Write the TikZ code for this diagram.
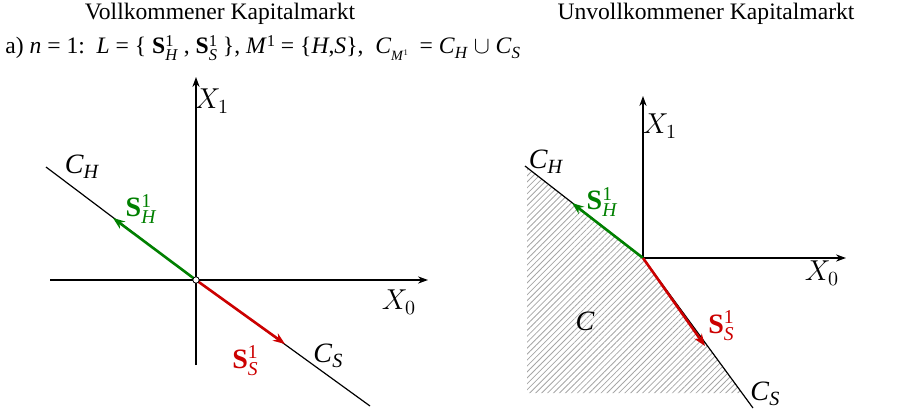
\documentclass[tikz,border=0pt]{standalone}
\usepackage{fontspec}
\setmainfont{Liberation Serif}
\usetikzlibrary{arrows.meta,patterns.meta}
\definecolor{hgreen}{RGB}{0,128,0}
\definecolor{sred}{RGB}{204,0,0}
% bold S with stacked 1 and index
\newcommand{\Svec}[1]{\textbf{S}\rlap{\raisebox{0.33em}{\scalebox{0.7}{1}}}\raisebox{-0.27em}{\scalebox{0.7}{\textit{#1}}}}
\newcommand{\Cset}[1]{\textit{C}\raisebox{-0.18em}{\scalebox{0.72}{\textit{#1}}}}

\begin{document}
\begin{tikzpicture}[x=0.5pt,y=-0.5pt,>=Stealth,
	axis/.style={draw=black,line width=0.6pt,-{Stealth[length=5pt,width=3.6pt]}},%
	budget/.style={draw=black,line width=0.6pt},%
	vecH/.style={draw=hgreen,line width=1.3pt,-{Stealth[length=6pt,width=4.5pt]}},%
	vecS/.style={draw=sred,line width=1.3pt,-{Stealth[length=6pt,width=4.5pt]}},%
	lab/.style={font=\fontsize{14}{16}\selectfont,inner sep=0pt},%
	head/.style={font=\fontsize{11.8}{14}\selectfont,inner sep=0pt}]
	\useasboundingbox (0,0) rectangle (907,412);
	% headings
	\node[head] (tleft) at (220,14) {Vollkommener Kapitalmarkt};
	\node[head] (tright) at (706,14) {Unvollkommener Kapitalmarkt};
	\node[head,anchor=west] (case) at (5,48) {a) \textit{n} = 1:\ \ \textit{L} = \{ \Svec{H} , \Svec{S} \}, \textit{M}\raisebox{0.33em}{\scalebox{0.7}{1}} = \{\textit{H},\textit{S}\}, \ \textit{C}\raisebox{-0.3em}{\scalebox{0.6}{\textit{M}\raisebox{0.4em}{\scalebox{0.6}{1}}}}\ \ = \Cset{H} $\cup$ \Cset{S}};
	% left: perfect market
	\coordinate (O1) at (196,280);
	\coordinate (xl1) at (50,280);  \coordinate (xr1) at (428,280);
	\coordinate (yb1) at (196,365); \coordinate (yt1) at (196,77);
	\coordinate (ch1) at (46,167);  \coordinate (cs1) at (370,406);
	\coordinate (sh1) at (113,218); \coordinate (ss1) at (285,344);
	\draw[axis] (xl1) -- (xr1);
	\draw[axis] (yb1) -- (yt1);
	\draw[budget] (ch1) -- (O1) -- (cs1);
	\draw[vecH] (O1) -- (sh1);
	\draw[vecS] (O1) -- (ss1);
	\node[circle,draw,fill=white,inner sep=0pt,minimum size=3.2pt,line width=0.4pt] (o1) at (O1) {};
	\node[lab] (X11) at (212,101) {$X_1$};
	\node[lab] (X01) at (399,302) {$X_0$};
	\node[lab] (CH1) at (82,167) {\Cset{H}};
	\node[lab] (CS1) at (328,356) {\Cset{S}};
	\node[lab,text=hgreen] (SH1) at (141,209) {\Svec{H}};
	\node[lab,text=sred] (SS1) at (245,361) {\Svec{S}};
	% right: imperfect market
	\coordinate (O2) at (643,258);
	\coordinate (xr2) at (846,258); \coordinate (yt2) at (643,96);
	\coordinate (ch2) at (525,166); \coordinate (cs2) at (753,408);
	\coordinate (sh2) at (572,203); \coordinate (ss2) at (705,346);
	\fill[pattern={Lines[angle=45,distance=2.1pt,line width=0.4pt]},pattern color=gray!70]
		(527,167) -- (O2) -- (742,393) -- (527,393) -- cycle;
	\draw[axis] (O2) -- (xr2);
	\draw[axis] (O2) -- (yt2);
	\draw[budget] (ch2) -- (O2) -- (cs2);
	\draw[vecH] (O2) -- (sh2);
	\draw[vecS] (O2) -- (ss2);
	\node[lab] (X12) at (660,126) {$X_1$};
	\node[lab] (X02) at (822,273) {$X_0$};
	\node[lab] (CH2) at (546,162) {\Cset{H}};
	\node[lab] (CS2) at (765,394) {\Cset{S}};
	\node[lab] (C2) at (585,321) {\textit{C}};
	\node[lab,text=hgreen] (SH2) at (602,202) {\Svec{H}};
	\node[lab,text=sred] (SS2) at (721,326) {\Svec{S}};
\end{tikzpicture}
\end{document}
